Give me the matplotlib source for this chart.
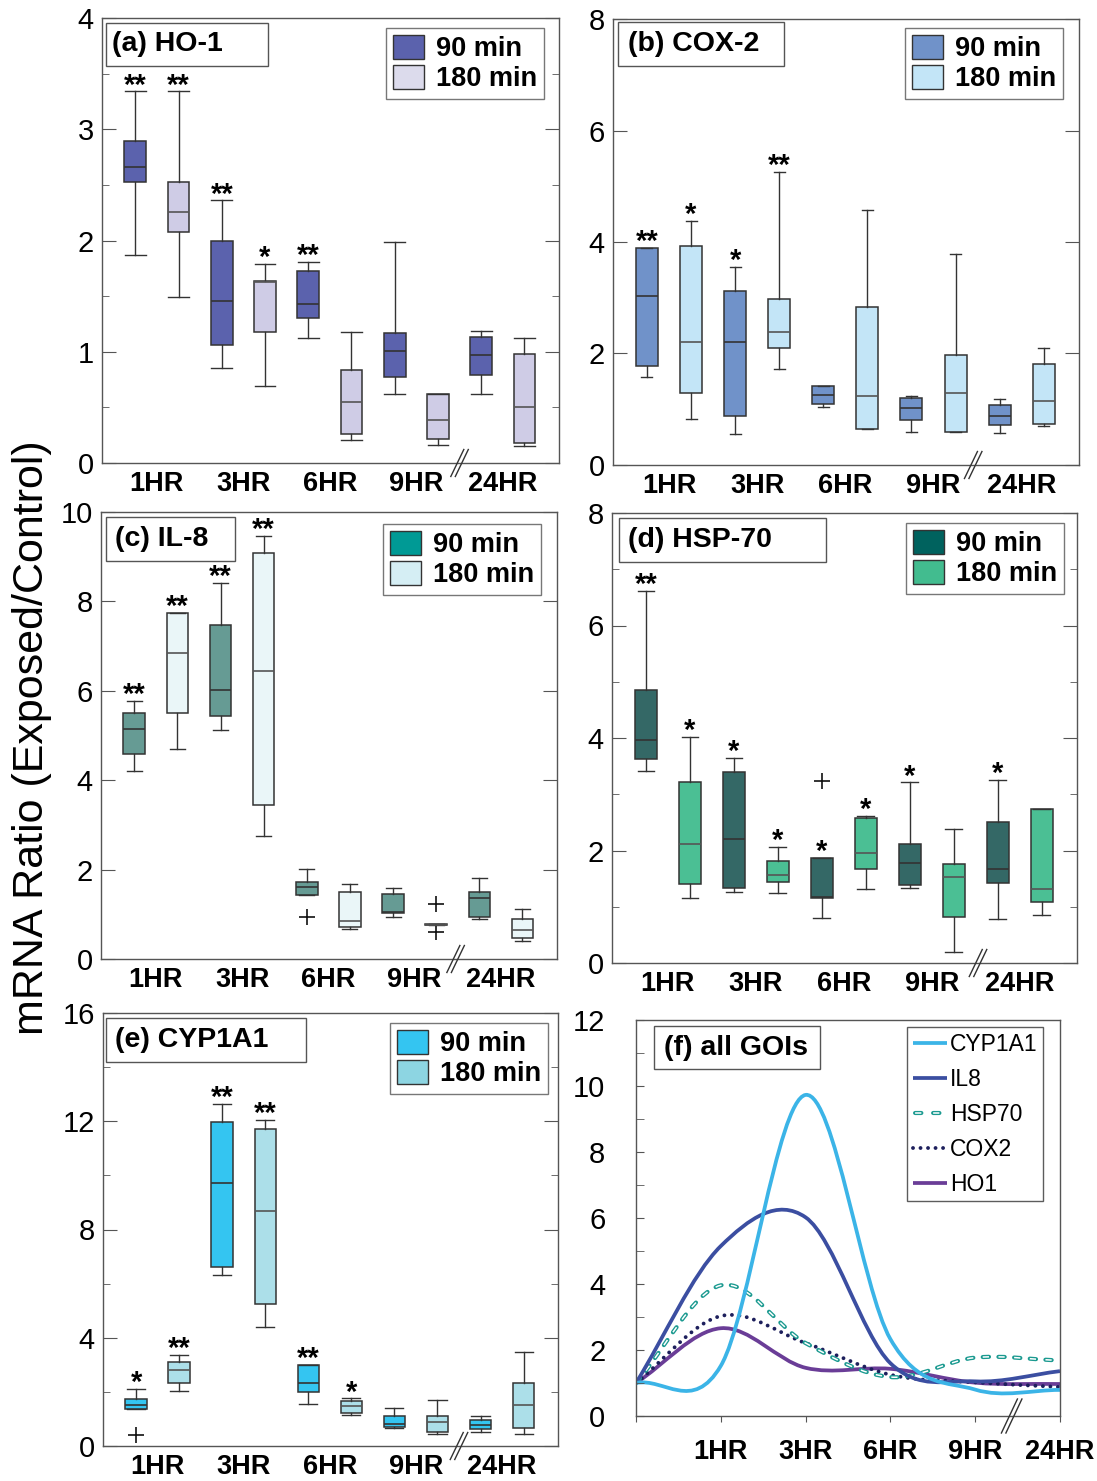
import numpy as np
import matplotlib
matplotlib.use("Agg")  # no display
import matplotlib.pyplot as plt
from matplotlib.patches import Patch, Rectangle, PathPatch
from matplotlib.lines import Line2D
from matplotlib.path import Path
from matplotlib.transforms import IdentityTransform
from matplotlib.ticker import MultipleLocator, NullLocator
from matplotlib.legend_handler import HandlerTuple

plt.rcParams["font.family"] = ["Liberation Sans", "DejaVu Sans"]
plt.rcParams["lines.scale_dashes"] = False

time_labels = ["1HR", "3HR", "6HR", "9HR", "24HR"]
dose_labels = ["90 min", "180 min"]

# boxes alternate 90 min / 180 min for 1, 3, 6, 9, 24 HR
ho1_hi = [3.34, 3.34, 2.36, 1.79, 1.81, 1.18, 1.99, 0.62, 1.19, 1.12]
ho1_q3 = [2.89, 2.53, 2.00, 1.64, 1.73, 0.84, 1.17, 0.62, 1.13, 0.98]
ho1_med = [2.66, 2.26, 1.46, 1.63, 1.43, 0.55, 1.01, 0.39, 0.97, 0.50]
ho1_q1 = [2.53, 2.08, 1.06, 1.18, 1.30, 0.26, 0.77, 0.22, 0.79, 0.18]
ho1_lo = [1.87, 1.49, 0.85, 0.69, 1.12, 0.21, 0.62, 0.16, 0.62, 0.15]
ho1_fliers = [[]] * 10
ho1_stars = ["**", "**", "**", "*", "**", "", "", "", "", ""]

cox2_hi = [3.89, 4.38, 3.55, 5.26, 1.42, 4.57, 1.24, 3.79, 1.18, 2.09]
cox2_q3 = [3.89, 3.92, 3.12, 2.97, 1.42, 2.84, 1.21, 1.97, 1.08, 1.81]
cox2_med = [3.03, 2.20, 2.21, 2.38, 1.25, 1.24, 1.02, 1.30, 0.88, 1.15]
cox2_q1 = [1.77, 1.29, 0.88, 2.10, 1.09, 0.65, 0.80, 0.60, 0.72, 0.73]
cox2_lo = [1.58, 0.82, 0.55, 1.73, 1.04, 0.65, 0.59, 0.59, 0.57, 0.70]
cox2_fliers = [[]] * 10
cox2_stars = ["**", "*", "*", "**", "", "", "", "", "", ""]

il8_hi = [5.77, 7.74, 8.41, 9.46, 2.02, 1.68, 1.59, 0.79, 1.82, 1.12]
il8_q3 = [5.50, 7.74, 7.47, 9.09, 1.72, 1.51, 1.45, 0.79, 1.51, 0.89]
il8_med = [5.15, 6.84, 6.02, 6.44, 1.60, 0.84, 1.05, 0.77, 1.36, 0.64]
il8_q1 = [4.58, 5.50, 5.43, 3.45, 1.43, 0.71, 1.03, 0.75, 0.94, 0.47]
il8_lo = [4.21, 4.70, 5.13, 2.76, 1.43, 0.66, 0.95, 0.75, 0.89, 0.40]
il8_fliers = [[], [], [], [], [0.95], [], [], [1.22, 0.60], [], []]
il8_stars = ["**", "**", "**", "**", "", "", "", "", "", ""]

hsp70_hi = [6.61, 4.02, 3.64, 2.07, 1.87, 2.62, 3.21, 2.39, 3.26, 2.74]
hsp70_q3 = [4.86, 3.21, 3.39, 1.81, 1.87, 2.58, 2.12, 1.76, 2.51, 2.74]
hsp70_med = [3.96, 2.11, 2.21, 1.57, 1.18, 1.95, 1.77, 1.53, 1.68, 1.31]
hsp70_q1 = [3.62, 1.41, 1.34, 1.44, 1.15, 1.68, 1.38, 0.82, 1.43, 1.09]
hsp70_lo = [3.42, 1.16, 1.26, 1.25, 0.80, 1.32, 1.34, 0.19, 0.79, 0.86]
hsp70_fliers = [[], [], [], [], [3.24], [], [], [], [], []]
hsp70_stars = ["**", "*", "*", "*", "*", "*", "*", "", "*", ""]

cyp_hi = [2.11, 3.37, 12.63, 12.04, 2.98, 1.76, 1.39, 1.70, 1.11, 3.49]
cyp_q3 = [1.74, 3.11, 11.96, 11.71, 2.98, 1.65, 1.12, 1.10, 0.97, 2.32]
cyp_med = [1.52, 2.80, 9.73, 8.70, 2.33, 1.48, 0.80, 0.88, 0.79, 1.50]
cyp_q1 = [1.36, 2.33, 6.63, 5.25, 1.98, 1.23, 0.69, 0.53, 0.62, 0.67]
cyp_lo = [1.36, 2.05, 6.32, 4.39, 1.54, 1.15, 0.67, 0.43, 0.52, 0.46]
cyp_fliers = [[0.39], [], [], [], [], [], [], [], [], []]
cyp_stars = ["*", "**", "**", "**", "**", "*", "", "", "", ""]

# panel (f): 90 min medians over time, starting from control level 1
curve_x = [0, 1, 2, 3, 4, 5]
curve_ticks = ["", "1HR", "3HR", "6HR", "9HR", "24HR"]
cyp_curve = [1.0, 1.52, 9.73, 2.33, 0.80, 0.79]
il8_curve = [1.0, 5.15, 6.02, 1.60, 1.05, 1.36]
hsp70_curve = [1.0, 3.96, 2.21, 1.18, 1.77, 1.68]
cox2_curve = [1.0, 3.03, 2.21, 1.25, 1.02, 0.88]
ho1_curve = [1.0, 2.66, 1.46, 1.43, 1.01, 0.97]

EDGE = "#333333"
SPINE = "#555555"
W, H = 1097, 1481

fig = plt.figure(figsize=(W / 100, H / 100), dpi=100)


def px_axes(left, top, right, bottom):
    return fig.add_axes([left / W, 1 - bottom / H, (right - left) / W, (bottom - top) / H])


def style_frame(ax):
    for sp in ax.spines.values():
        sp.set_color(SPINE)
        sp.set_linewidth(1.0)


def add_break(ax, xval, half_w=6.5, half_h=13.5, gap=4.5):
    bx, by = ax.transData.transform((xval, ax.get_ylim()[0]))
    for shift in (-gap / 2, gap / 2):
        fig.add_artist(Line2D([bx + shift - half_w, bx + shift + half_w],
                              [by - half_h, by + half_h],
                              transform=IdentityTransform(), color="#333333", lw=1.0))


def title_box(ax, text, x0, y0, w, h, tx):
    ax.add_patch(Rectangle((x0, y0), w, h, transform=ax.transAxes, facecolor="white",
                           edgecolor=SPINE, lw=1.0, zorder=5))
    ax.text(tx, y0 + h / 2, text, transform=ax.transAxes, fontsize=20.5, fontweight="bold",
            va="center", ha="left", zorder=6)


def box_panel(ax, hi, q3, med, q1, lo, fliers, stars, box_cols, leg_cols,
              ymax, major, minor, capw, title, tbox, anchor, brk=8.5):
    positions = np.arange(1, 11)
    stats = []
    for i in range(10):
        stats.append(dict(whislo=lo[i], q1=q1[i], med=med[i], q3=q3[i],
                          whishi=hi[i], fliers=fliers[i]))
    bp = ax.bxp(stats, positions=positions, widths=0.5, patch_artist=True,
                capwidths=capw,
                boxprops=dict(edgecolor=EDGE, lw=1.1),
                whiskerprops=dict(color=EDGE, lw=1.0),
                capprops=dict(color=EDGE, lw=1.0),
                medianprops=dict(color=EDGE, lw=1.2),
                flierprops=dict(marker="+", markersize=11, markeredgecolor="#111111",
                                markeredgewidth=1.2))
    for i, patch in enumerate(bp["boxes"]):
        patch.set_facecolor(box_cols[i % 2])
        if i % 2 == 1:
            bp["medians"][i].set_color("#555555")
    for i, s in enumerate(stars):
        if s:
            ax.annotate(s, (positions[i], hi[i]), xytext=(0, -1.5), textcoords="offset points",
                        ha="center", va="baseline", fontsize=21, fontweight="bold")
    ax.set_xlim(0.23, 10.8)
    ax.set_ylim(0, ymax)
    ax.set_xticks([1.5, 3.5, 5.5, 7.5, 9.5])
    ax.set_xticklabels(time_labels, fontsize=19.5, fontweight="bold")
    ax.tick_params(axis="x", length=0, pad=6)
    ax.yaxis.set_major_locator(MultipleLocator(major))
    if minor:
        ax.yaxis.set_minor_locator(MultipleLocator(minor))
    else:
        ax.yaxis.set_minor_locator(NullLocator())
    ax.tick_params(axis="y", which="both", direction="in", left=True, right=True,
                   color=SPINE, labelsize=21, pad=6)
    ax.tick_params(axis="y", which="major", length=10)
    ax.tick_params(axis="y", which="minor", length=5)
    style_frame(ax)
    title_box(ax, title, *tbox)
    handles = [Patch(facecolor=c, edgecolor=EDGE, lw=1.0) for c in leg_cols]
    leg = ax.legend(handles, dose_labels, loc="upper right", bbox_to_anchor=anchor,
                    borderaxespad=0, prop=dict(weight="bold", size=19.5), frameon=True,
                    fancybox=False, handlelength=1.15, handleheight=1.0,
                    handletextpad=0.45, labelspacing=0.1, borderpad=0.25)
    leg.get_frame().set_edgecolor(SPINE)
    leg.get_frame().set_linewidth(1.0)
    add_break(ax, brk)


# (a) HO-1
ax_a = px_axes(102, 18, 559, 463)
box_panel(ax_a, ho1_hi, ho1_q3, ho1_med, ho1_q1, ho1_lo, ho1_fliers, ho1_stars,
          ["#5b62ad", "#cfcce6"], ["#5b62ad", "#dcdbec"], 4, 1, 0.5, 0.48,
          "(a) HO-1", (0.009, 0.892, 0.354, 0.097, 0.022), (0.967, 0.978))

# (b) COX-2
ax_b = px_axes(613, 19, 1079, 465)
box_panel(ax_b, cox2_hi, cox2_q3, cox2_med, cox2_q1, cox2_lo, cox2_fliers, cox2_stars,
          ["#7092c9", "#c3e5f7"], ["#7092c9", "#c3e5f7"], 8, 2, None, 0.25,
          "(b) COX-2", (0.011, 0.895, 0.356, 0.099, 0.032), (0.966, 0.980), brk=8.4)

# (c) IL-8
ax_c = px_axes(101, 512, 557, 959)
box_panel(ax_c, il8_hi, il8_q3, il8_med, il8_q1, il8_lo, il8_fliers, il8_stars,
          ["#669b94", "#eaf6f8"], ["#009a95", "#d5eef4"], 10, 2, None, 0.35,
          "(c) IL-8", (0.011, 0.890, 0.283, 0.098, 0.031), (0.965, 0.973), brk=8.45)

# (d) HSP-70
ax_d = px_axes(612, 513, 1077, 963)
box_panel(ax_d, hsp70_hi, hsp70_q3, hsp70_med, hsp70_q1, hsp70_lo, hsp70_fliers, hsp70_stars,
          ["#346866", "#4bbf94"], ["#00625e", "#42bc8f"], 8, 2, 1, 0.38,
          "(d) HSP-70", (0.015, 0.891, 0.445, 0.098, 0.034), (0.972, 0.978), brk=8.55)

# (e) CYP1A1
ax_e = px_axes(103, 1013, 558, 1446)
box_panel(ax_e, cyp_hi, cyp_q3, cyp_med, cyp_q1, cyp_lo, cyp_fliers, cyp_stars,
          ["#34c5f1", "#acdfe9"], ["#34c5f1", "#8dd5e2"], 16, 4, 2, 0.42,
          "(e) CYP1A1", (0.007, 0.887, 0.44, 0.102, 0.026), (0.978, 0.977))


# (f) smoothed time courses
def smooth_path(xs, ys):
    pts = np.column_stack([xs, ys]).astype(float)
    tang = np.empty_like(pts)
    tang[0] = pts[1] - pts[0]
    tang[-1] = pts[-1] - pts[-2]
    tang[1:-1] = (pts[2:] - pts[:-2]) / 2
    verts = [pts[0]]
    codes = [Path.MOVETO]
    for i in range(len(pts) - 1):
        verts += [pts[i] + tang[i] / 3, pts[i + 1] - tang[i + 1] / 3, pts[i + 1]]
        codes += [Path.CURVE4] * 3
    return Path(verts, codes)


ax_f = px_axes(636, 1020, 1060, 1416)
ax_f.set_xlim(0, 5)
ax_f.set_ylim(0, 12)

cyp_style = dict(color="#3bb4e7", lw=2.7, ls="-")
il8_style = dict(color="#3b4ea1", lw=2.7, ls="-")
hsp_outer = dict(color="#1b9a90", lw=3.0, ls=(0, (4.5, 6.8)), capstyle="round")
hsp_inner = dict(color="white", lw=1.1, ls=(0, (4.5, 6.8)), capstyle="butt")
cox2_style = dict(color="#1d1f5c", lw=2.8, ls=(0, (0.01, 5.4)), capstyle="round")
ho1_style = dict(color="#6a3d97", lw=2.7, ls="-")

for ys, sty in [(ho1_curve, ho1_style), (cox2_curve, cox2_style),
                (hsp70_curve, hsp_outer), (hsp70_curve, hsp_inner),
                (il8_curve, il8_style), (cyp_curve, cyp_style)]:
    ax_f.add_patch(PathPatch(smooth_path(curve_x, ys), facecolor="none",
                             edgecolor=sty["color"], lw=sty["lw"], ls=sty["ls"],
                             capstyle=sty.get("capstyle", "butt"), joinstyle="round"))

ax_f.set_xticks(curve_x)
ax_f.set_xticklabels(curve_ticks, fontsize=19.5, fontweight="bold")
ax_f.tick_params(axis="x", direction="out", length=4.5, color=SPINE, pad=12)
ax_f.yaxis.set_major_locator(MultipleLocator(2))
ax_f.yaxis.set_minor_locator(MultipleLocator(1))
ax_f.tick_params(axis="y", which="both", direction="in", length=6, color=SPINE,
                 labelsize=21, pad=22)
style_frame(ax_f)
title_box(ax_f, "(f) all GOIs", 0.042, 0.876, 0.392, 0.109, 0.066)


def line_handle(sty, ls=None):
    return Line2D([], [], color=sty["color"], lw=sty["lw"], ls=ls or sty["ls"],
                  solid_capstyle="butt", dash_capstyle=sty.get("capstyle", "butt"))


# two whole dash capsules inside the legend sample
hsp_key = (11.5, (4.5, 8.5))
f_handles = [line_handle(cyp_style), line_handle(il8_style),
             (line_handle(hsp_outer, hsp_key), line_handle(hsp_inner, hsp_key)),
             line_handle(cox2_style), line_handle(ho1_style)]
leg_f = ax_f.legend(f_handles, ["CYP1A1", "IL8", "HSP70", "COX2", "HO1"],
                    handler_map={tuple: HandlerTuple(ndivide=1, pad=0)},
                    loc="upper right", bbox_to_anchor=(0.96, 0.982), borderaxespad=0,
                    prop=dict(size=16.5), frameon=True, fancybox=False,
                    handlelength=1.5, handletextpad=0.1, labelspacing=0.52,
                    borderpad=0.25)
leg_f.get_frame().set_edgecolor(EDGE)
leg_f.get_frame().set_linewidth(1.0)
add_break(ax_f, 4.43, half_w=8, half_h=17)

fig.text(0.029, 0.5017, "mRNA Ratio (Exposed/Control)", rotation=90,
         fontsize=31, ha="center", va="center")

fig.savefig("out.png", dpi=100)
